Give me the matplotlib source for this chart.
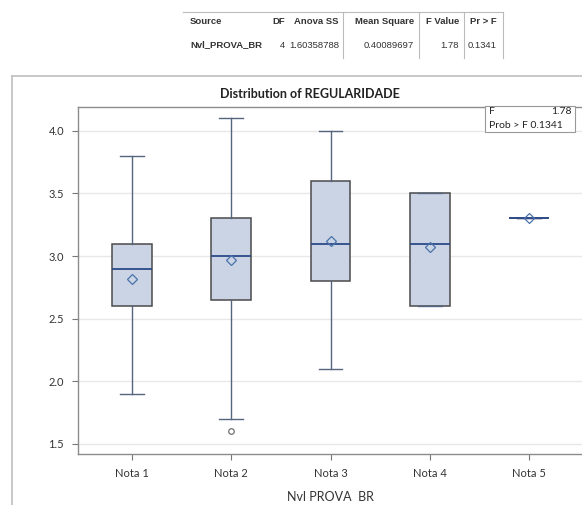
import matplotlib
matplotlib.use("Agg")
import matplotlib.pyplot as plt
from matplotlib.lines import Line2D
from matplotlib.patches import Rectangle

plt.rcParams['font.family'] = ['Lato', 'DejaVu Sans']

# ANOVA table
table_header = ["Source", "DF", "Anova SS", "Mean Square", "F Value", "Pr > F"]
table_row = ["Nvl_PROVA_BR", "4", "1.60358788", "0.40089697", "1.78", "0.1341"]

# box plot data
groups = ["Nota 1", "Nota 2", "Nota 3", "Nota 4", "Nota 5"]
q1 = [2.6, 2.65, 2.8, 2.6, 3.3]
median = [2.9, 3.0, 3.1, 3.1, 3.3]
q3 = [3.1, 3.3, 3.6, 3.5, 3.3]
whisk_lo = [1.9, 1.7, 2.1, 2.6, 3.3]
whisk_hi = [3.8, 4.1, 4.0, 3.5, 3.3]
means = [2.82, 2.97, 3.12, 3.07, 3.3]
outliers = [[], [1.6], [], [], []]

f_value = "1.78"
prob_f = "0.1341"

W, H = 582, 505
fig = plt.figure(figsize=(W / 100, H / 100), dpi=100)


def fx(x):
    return x / W


def fy(y):
    return 1 - y / H


######################################
# table at the top
######################################
line_col = "#BBBBBB"
fig.add_artist(Line2D([fx(183), fx(503)], [fy(12), fy(12)], color=line_col, lw=0.8))
for xv in [343, 419, 464, 503]:
    fig.add_artist(Line2D([fx(xv), fx(xv)], [fy(12), fy(58)], color=line_col, lw=0.8))

col_x = [190, 285, 339, 414, 459, 497]
col_ha = ["left", "right", "right", "right", "right", "right"]
for i in range(len(table_header)):
    fig.text(fx(col_x[i]), fy(22), table_header[i], ha=col_ha[i], va="center",
             fontsize=6.8, fontweight="bold", color="#333333", family="Liberation Sans")
    fig.text(fx(col_x[i]), fy(45), table_row[i], ha=col_ha[i], va="center",
             fontsize=6.8, fontweight="bold" if i == 0 else "normal",
             color="#333333", family="Liberation Sans")

######################################
# outer frame + title
######################################
fig.add_artist(Line2D([fx(12), fx(12)], [fy(76), 0], color="#BFBFBF", lw=1.2))
fig.add_artist(Line2D([fx(12), 1], [fy(76), fy(76)], color="#BFBFBF", lw=1.2))
fig.text(fx(310), fy(94), "Distribution of REGULARIDADE", ha="center", va="center",
         fontsize=9, fontweight="bold", color="#222222")

######################################
# box plot
######################################
left, right, top, bottom = 78, 583, 107, 454
ax = fig.add_axes([fx(left), fy(bottom), fx(right - left), (bottom - top) / H])

stats = []
for i in range(len(groups)):
    stats.append({
        "label": groups[i],
        "q1": q1[i], "med": median[i], "q3": q3[i],
        "whislo": whisk_lo[i], "whishi": whisk_hi[i],
        "mean": means[i], "fliers": outliers[i],
    })

positions = list(range(1, len(groups) + 1))
ax.bxp(stats, positions=positions, widths=0.4, capwidths=0.24,
       patch_artist=True, showmeans=True, zorder=3,
       boxprops=dict(facecolor="#CAD4E5", edgecolor="#4A4A4A", linewidth=1.1),
       medianprops=dict(color="#2B4A8A", linewidth=1.3),
       whiskerprops=dict(color="#55657F", linewidth=1.0),
       capprops=dict(color="#55657F", linewidth=1.0),
       meanprops=dict(marker="D", markerfacecolor="none", markeredgecolor="#4A72AA",
                      markersize=5, markeredgewidth=0.9),
       flierprops=dict(marker="o", markerfacecolor="none", markeredgecolor="#707070",
                       markersize=4, markeredgewidth=0.9))

ax.set_xlim(0.4545, 5.5455)
ax.set_ylim(1.42, 4.19)
ax.set_yticks([1.5, 2.0, 2.5, 3.0, 3.5, 4.0])
ax.set_yticklabels(["1.5", "2.0", "2.5", "3.0", "3.5", "4.0"])
ax.set_xticks(positions)
ax.set_xticklabels(groups)
ax.grid(axis="y", color="#E8E8E8", linewidth=1.0, zorder=0)
ax.set_axisbelow(True)
ax.tick_params(colors="#777777", labelcolor="#333333", labelsize=8, length=4, pad=6)
for s in ax.spines.values():
    s.set_color("#8C8C8C")
    s.set_linewidth(1.0)
ax.spines["right"].set_visible(False)
ax.set_xlabel("Nvl PROVA  BR", fontsize=9, color="#333333", labelpad=9)

# F stat inset
inset = Rectangle((fx(485), fy(132)), fx(575 - 485), (132 - 106) / H,
                  transform=fig.transFigure, facecolor="white", edgecolor="#999999",
                  lw=0.8, zorder=5)
fig.add_artist(inset)
fig.text(fx(489), fy(112), "F", ha="left", va="center", fontsize=7.5, color="#222222", zorder=6)
fig.text(fx(572), fy(112), f_value, ha="right", va="center", fontsize=7.5, color="#222222", zorder=6)
fig.text(fx(489), fy(125), "Prob > F " + prob_f, ha="left", va="center", fontsize=7.5,
         color="#222222", zorder=6)

fig.savefig("out.png", dpi=100)
